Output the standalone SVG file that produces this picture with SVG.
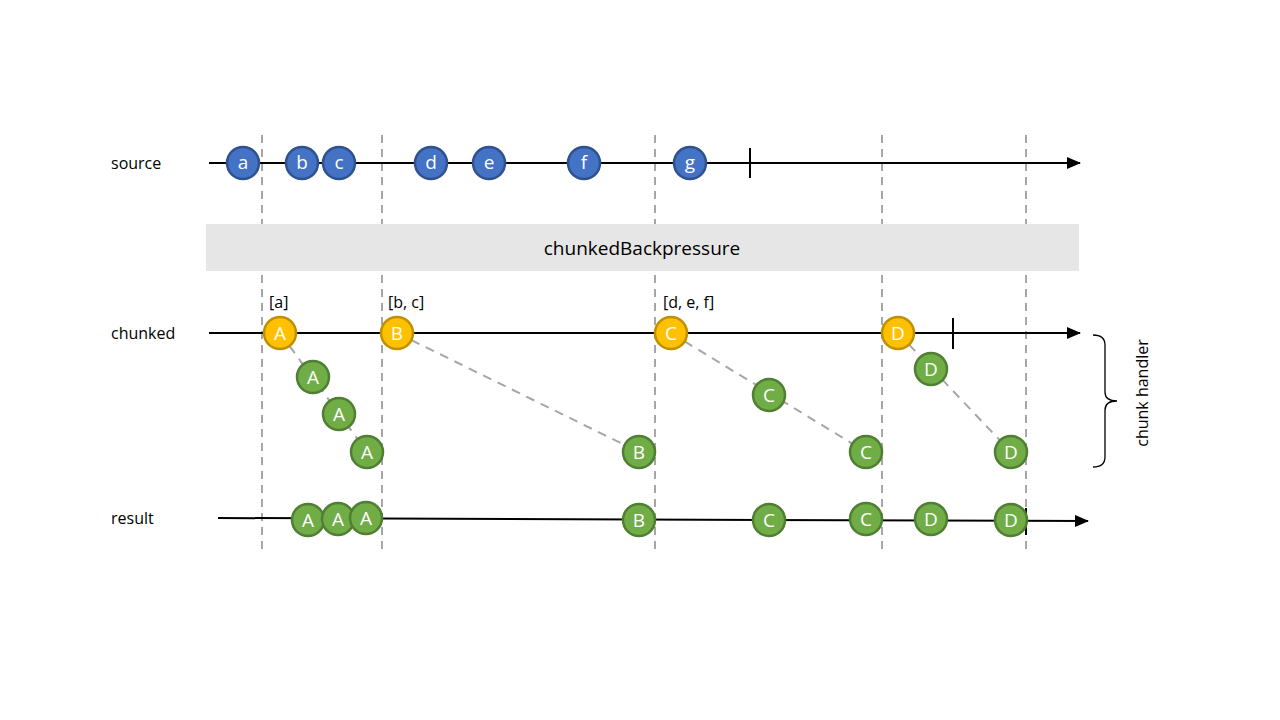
<svg xmlns="http://www.w3.org/2000/svg" width="1280" height="720" viewBox="0 0 1280 720">
<style>
.lbl{font-family:"Open Sans","Liberation Sans",sans-serif;font-size:16px;fill:#000}
.ct{font-family:"Open Sans","Liberation Sans",sans-serif;font-size:19px;fill:#fff;text-anchor:middle;dominant-baseline:central}
.blue{fill:#4472c4;stroke:#2f528f;stroke-width:2.5}
.org{fill:#ffc000;stroke:#bf9000;stroke-width:2.5}
.grn{fill:#70ad47;stroke:#507e32;stroke-width:2.5}
.vd{stroke:#a6a6a6;stroke-width:2;stroke-dasharray:8,6;fill:none}
.gd{stroke:#a6a6a6;stroke-width:2;stroke-dasharray:9,7;fill:none}
.axis{stroke:#000;stroke-width:2;fill:none}
</style>
<defs>
<marker id="arr" markerWidth="14" markerHeight="14" refX="13" refY="6" orient="auto" markerUnits="userSpaceOnUse">
<path d="M0,0 L14,6 L0,12 Z" fill="#000"/>
</marker>
</defs>
<rect width="1280" height="720" fill="#fff"/>
<g id="grid">
<line class="vd" x1="262" y1="135" x2="262" y2="552"/>
<line class="vd" x1="382" y1="135" x2="382" y2="552"/>
<line class="vd" x1="655" y1="135" x2="655" y2="552"/>
<line class="vd" x1="882" y1="135" x2="882" y2="552"/>
<line class="vd" x1="1026" y1="135" x2="1026" y2="552"/>
</g>
<g id="operator">
<rect x="206" y="224" width="873" height="47" fill="#e7e6e6"/>
<text x="642" y="248" style="font-family:'Open Sans','Liberation Sans',sans-serif;font-size:19px;fill:#000;text-anchor:middle;dominant-baseline:central">chunkedBackpressure</text>
</g>
<g id="labels">
<text class="lbl" x="111" y="169">source</text>
<text class="lbl" x="111" y="339">chunked</text>
<text class="lbl" x="111" y="524">result</text>
<text class="lbl" x="269" y="308">[a]</text>
<text class="lbl" x="388" y="308">[b, c]</text>
<text class="lbl" x="663" y="308">[d, e, f]</text>
</g>
<g id="connectors">
<line class="axis" x1="209" y1="163" x2="1080" y2="163" marker-end="url(#arr)"/>
<line class="axis" x1="750" y1="148" x2="750" y2="178"/>
<line class="axis" x1="209" y1="333" x2="1080" y2="333" marker-end="url(#arr)"/>
<line class="axis" x1="953" y1="318" x2="953" y2="349"/>
<line class="axis" x1="218" y1="518" x2="1088" y2="521" marker-end="url(#arr)"/>
<line class="axis" x1="1026" y1="508" x2="1026" y2="535"/>
<line class="gd" x1="280" y1="333" x2="367" y2="452"/>
<line class="gd" x1="397" y1="333" x2="639" y2="452"/>
<line class="gd" x1="671" y1="333" x2="866" y2="452"/>
<line class="gd" x1="898" y1="333" x2="1011" y2="452"/>
</g>
<g id="brace">
<path d="M1093,335 Q1105,335 1105,345 L1105,392 Q1105,401 1117,401 Q1105,401 1105,410 L1105,457 Q1105,467 1093,467" fill="none" stroke="#000" stroke-width="1.3"/>
<text class="lbl" transform="translate(1148,393) rotate(-90)" text-anchor="middle">chunk handler</text>
</g>
<g id="source-nodes">
<g id="s-a"><circle class="blue" cx="243" cy="163" r="16"/><text class="ct" x="243" y="162">a</text></g>
<g id="s-b"><circle class="blue" cx="302" cy="163" r="16"/><text class="ct" x="302" y="162">b</text></g>
<g id="s-c"><circle class="blue" cx="339" cy="163" r="16"/><text class="ct" x="339" y="162">c</text></g>
<g id="s-d"><circle class="blue" cx="431" cy="163" r="16"/><text class="ct" x="431" y="162">d</text></g>
<g id="s-e"><circle class="blue" cx="489" cy="163" r="16"/><text class="ct" x="489" y="162">e</text></g>
<g id="s-f"><circle class="blue" cx="584" cy="163" r="16"/><text class="ct" x="584" y="162">f</text></g>
<g id="s-g"><circle class="blue" cx="690" cy="163" r="16"/><text class="ct" x="690" y="162">g</text></g>
</g>
<g id="chunk-nodes">
<g id="c-A"><circle class="org" cx="280" cy="333" r="16"/><text class="ct" x="280" y="333">A</text></g>
<g id="c-B"><circle class="org" cx="397" cy="333" r="16"/><text class="ct" x="397" y="333">B</text></g>
<g id="c-C"><circle class="org" cx="671" cy="333" r="16"/><text class="ct" x="671" y="333">C</text></g>
<g id="c-D"><circle class="org" cx="898" cy="333" r="16"/><text class="ct" x="898" y="333">D</text></g>
</g>
<g id="handler-nodes">
<g id="h-A1"><circle class="grn" cx="313" cy="377" r="16"/><text class="ct" x="313" y="377">A</text></g>
<g id="h-A2"><circle class="grn" cx="339" cy="414" r="16"/><text class="ct" x="339" y="414">A</text></g>
<g id="h-A3"><circle class="grn" cx="367" cy="452" r="16"/><text class="ct" x="367" y="452">A</text></g>
<g id="h-B1"><circle class="grn" cx="639" cy="452" r="16"/><text class="ct" x="639" y="452">B</text></g>
<g id="h-C1"><circle class="grn" cx="769" cy="395" r="16"/><text class="ct" x="769" y="395">C</text></g>
<g id="h-C2"><circle class="grn" cx="866" cy="452" r="16"/><text class="ct" x="866" y="452">C</text></g>
<g id="h-D1"><circle class="grn" cx="931" cy="369" r="16"/><text class="ct" x="931" y="369">D</text></g>
<g id="h-D2"><circle class="grn" cx="1011" cy="452" r="16"/><text class="ct" x="1011" y="452">D</text></g>
</g>
<g id="result-nodes">
<g id="r-A1"><circle class="grn" cx="308" cy="520" r="16"/><text class="ct" x="308" y="520">A</text></g>
<g id="r-A2"><circle class="grn" cx="338" cy="519" r="16"/><text class="ct" x="338" y="519">A</text></g>
<g id="r-A3"><circle class="grn" cx="366" cy="518" r="16"/><text class="ct" x="366" y="518">A</text></g>
<g id="r-B"><circle class="grn" cx="639" cy="520" r="16"/><text class="ct" x="639" y="520">B</text></g>
<g id="r-C1"><circle class="grn" cx="769" cy="520" r="16"/><text class="ct" x="769" y="520">C</text></g>
<g id="r-C2"><circle class="grn" cx="866" cy="519" r="16"/><text class="ct" x="866" y="519">C</text></g>
<g id="r-D1"><circle class="grn" cx="931" cy="519" r="16"/><text class="ct" x="931" y="519">D</text></g>
<g id="r-D2"><circle class="grn" cx="1011" cy="520" r="16"/><text class="ct" x="1011" y="520">D</text></g>
</g>
</svg>
